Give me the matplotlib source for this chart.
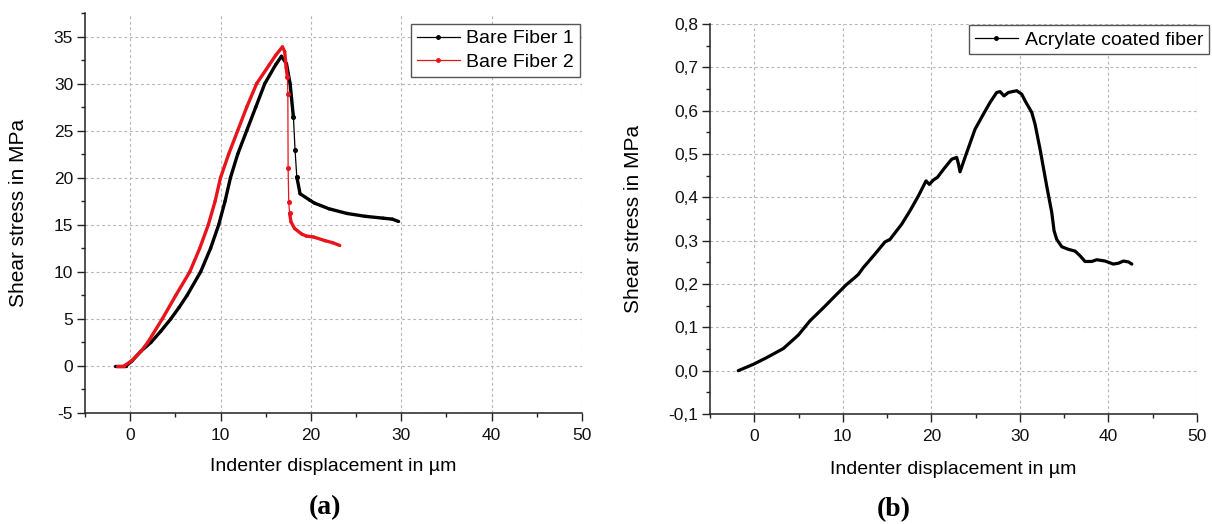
import matplotlib
matplotlib.use("Agg")
import matplotlib.pyplot as plt
import numpy as np
from matplotlib.collections import LineCollection
from matplotlib.lines import Line2D
from matplotlib.ticker import MultipleLocator, FuncFormatter

plt.rcParams['font.family'] = ['Liberation Sans', 'DejaVu Sans']
plt.rcParams['axes.unicode_minus'] = False

# (a) bare fibers - indenter displacement (um) vs shear stress (MPa)
fib1_x = [-1.65, -0.47, 0.17, 1.23, 2.3, 3.4, 4.5, 5.4, 6.3, 7.8, 8.9, 9.8, 10.5, 11.1,
          11.9, 12.9, 13.9, 14.9, 16.1, 16.75, 17.3, 17.7, 18.07, 18.25, 18.44, 18.8,
          19.9, 20.4, 22.0, 24.0, 26.0, 28.0, 29.0, 29.7]
fib1_y = [0.0, 0.0, 0.5, 1.6, 2.5, 3.7, 5.0, 6.2, 7.5, 10.0, 12.5, 15.0, 17.5, 20.0,
          22.5, 25.0, 27.5, 30.0, 32.0, 32.9, 32.1, 30.0, 26.4, 22.9, 20.1, 18.3,
          17.6, 17.3, 16.7, 16.2, 15.9, 15.7, 15.6, 15.35]

fib2_x = [-1.5, -0.68, 0.17, 1.23, 1.95, 3.56, 5.05, 6.6, 7.7, 8.65, 9.4, 10.0, 10.9,
          11.9, 12.9, 14.0, 15.4, 16.1, 16.85, 17.1, 17.26, 17.4, 17.45, 17.48, 17.55,
          17.65, 17.8, 18.2, 19.0, 19.5, 20.3, 21.6, 22.4, 23.2]
fib2_y = [0.0, 0.0, 0.55, 1.6, 2.5, 5.0, 7.5, 10.0, 12.5, 15.0, 17.5, 20.0, 22.5,
          25.0, 27.5, 30.0, 32.0, 33.0, 33.9, 33.4, 31.7, 30.7, 28.9, 21.0, 17.4,
          16.2, 15.3, 14.6, 14.0, 13.8, 13.7, 13.3, 13.1, 12.8]

# (b) acrylate coated fiber
acr_x = [-1.81, -0.11, 1.39, 3.28, 4.97, 6.29, 7.80, 9.30, 10.43, 11.19, 11.75, 12.32,
         13.63, 14.76, 15.33, 16.65, 17.59, 18.53, 19.40, 19.77, 20.23, 20.68, 21.54,
         22.30, 22.86, 23.05, 23.24, 23.80, 24.93, 25.88, 26.63, 27.38, 27.76, 28.21,
         28.70, 29.64, 30.21, 30.58, 31.34, 31.71, 32.28, 33.03, 33.60, 33.86, 34.16,
         34.73, 35.48, 36.23, 36.80, 37.36, 38.12, 38.68, 39.62, 40.56, 41.13, 41.70,
         42.26, 42.64]
acr_y = [0.0, 0.0146, 0.030, 0.051, 0.082, 0.115, 0.145, 0.176, 0.199, 0.212, 0.222,
         0.238, 0.269, 0.297, 0.303, 0.338, 0.369, 0.403, 0.438, 0.430, 0.440, 0.446,
         0.469, 0.488, 0.492, 0.478, 0.459, 0.492, 0.557, 0.592, 0.619, 0.642, 0.644,
         0.634, 0.642, 0.646, 0.638, 0.623, 0.596, 0.569, 0.511, 0.426, 0.365, 0.323,
         0.303, 0.286, 0.280, 0.276, 0.265, 0.252, 0.252, 0.256, 0.253, 0.246, 0.248,
         0.253, 0.251, 0.246]

fig = plt.figure(figsize=(12.12, 5.24), dpi=100)
ax1 = fig.add_axes([0.0701, 0.2118, 0.4101, 0.7634])
ax2 = fig.add_axes([0.5858, 0.2099, 0.4018, 0.7443])

grid_kw = dict(color='#b5b5b5', linestyle=(0, (2.5, 2.5)), linewidth=0.8)


def style_axis(ax):
    for s in ['top', 'right']:
        ax.spines[s].set_visible(False)
    for s in ['left', 'bottom']:
        ax.spines[s].set_linewidth(1.1)
        ax.spines[s].set_color('#222222')
    ax.tick_params(which='major', direction='out', length=5.5, width=1.0,
                   labelsize=12.5, color='#222222', labelcolor='#111111', pad=3)
    ax.tick_params(which='minor', direction='out', length=3, width=1.0, color='#222222')
    ax.tick_params(axis='x', which='major', pad=5)
    ax.grid(True, which='major', **grid_kw)
    ax.set_axisbelow(True)


def draw_series(ax, x, y, color, slope_cut, lw_thick=2.4):
    # steep parts of the curve are drawn thin with dots, like the sparse points of the original
    x = np.asarray(x)
    y = np.asarray(y)
    pts = np.column_stack([x, y]).reshape(-1, 1, 2)
    segs = np.concatenate([pts[:-1], pts[1:]], axis=1)
    slope = np.abs(np.diff(y) / np.diff(x))
    widths = np.where(slope > slope_cut, 0.9, lw_thick)
    lc = LineCollection(segs, colors=color, linewidths=widths, capstyle='round',
                        joinstyle='round')
    ax.add_collection(lc)
    steep = np.zeros(len(x), dtype=bool)
    steep[:-1] |= slope > slope_cut
    steep[1:] |= slope > slope_cut
    ax.plot(x[steep], y[steep], linestyle='none', marker='o', ms=2.6, color=color)


# ---- panel (a)
style_axis(ax1)
ax1.set_xlim(-5, 50)
ax1.set_ylim(-5, 37.5)
ax1.xaxis.set_major_locator(MultipleLocator(10))
ax1.xaxis.set_minor_locator(MultipleLocator(5))
ax1.yaxis.set_major_locator(MultipleLocator(5))
ax1.yaxis.set_minor_locator(MultipleLocator(2.5))
draw_series(ax1, fib1_x, fib1_y, 'black', 12)
draw_series(ax1, fib2_x, fib2_y, '#e8141b', 12)
ax1.set_xlabel('Indenter displacement in µm', fontsize=14)
ax1.set_ylabel('Shear stress in MPa', fontsize=15)
ax1.xaxis.set_label_coords(0.5, -0.1125)
ax1.yaxis.set_label_coords(-0.115, 0.5)
h1 = [Line2D([], [], color='black', lw=0.9, marker='o', ms=2.5),
      Line2D([], [], color='#e8141b', lw=0.9, marker='o', ms=2.5)]
leg1 = ax1.legend(h1, ['Bare Fiber 1', 'Bare Fiber 2'], loc='upper right',
                  bbox_to_anchor=(0.996, 0.9725), fontsize=14, numpoints=1,
                  fancybox=False, framealpha=1, edgecolor='#555555',
                  handlelength=2.2, handletextpad=0.35, borderpad=0.3,
                  labelspacing=0.3, borderaxespad=0)
leg1.get_frame().set_linewidth(1.0)

# ---- panel (b)
style_axis(ax2)
ax2.set_xlim(-5, 50)
ax2.set_ylim(-0.1, 0.8)
ax2.xaxis.set_major_locator(MultipleLocator(10))
ax2.xaxis.set_minor_locator(MultipleLocator(5))
ax2.yaxis.set_major_locator(MultipleLocator(0.1))
ax2.yaxis.set_minor_locator(MultipleLocator(0.05))
ax2.yaxis.set_major_formatter(FuncFormatter(lambda v, p: f"{v:.1f}".replace('.', ',')))
ax2.plot(acr_x, acr_y, color='black', lw=2.3, solid_capstyle='round')
ax2.set_xlabel('Indenter displacement in µm', fontsize=14)
ax2.set_ylabel('Shear stress in MPa', fontsize=15)
ax2.xaxis.set_label_coords(0.5, -0.1205)
ax2.yaxis.set_label_coords(-0.138, 0.5)
h2 = [Line2D([], [], color='black', lw=0.9, marker='o', ms=2.5)]
leg2 = ax2.legend(h2, ['Acrylate coated fiber'], loc='upper right',
                  bbox_to_anchor=(1.0246, 0.997), fontsize=14, numpoints=1,
                  fancybox=False, framealpha=1, edgecolor='#555555',
                  handlelength=2.2, handletextpad=0.35, borderpad=0.3,
                  borderaxespad=0)
leg2.get_frame().set_linewidth(1.0)

# panel captions
fig.text(0.268, 0.031, '(a)', ha='center', va='center', fontsize=20,
         fontweight='bold', family='Liberation Serif')
fig.text(0.7376, 0.027, '(b)', ha='center', va='center', fontsize=20,
         fontweight='bold', family='Liberation Serif')

fig.savefig('out.png', dpi=100)
